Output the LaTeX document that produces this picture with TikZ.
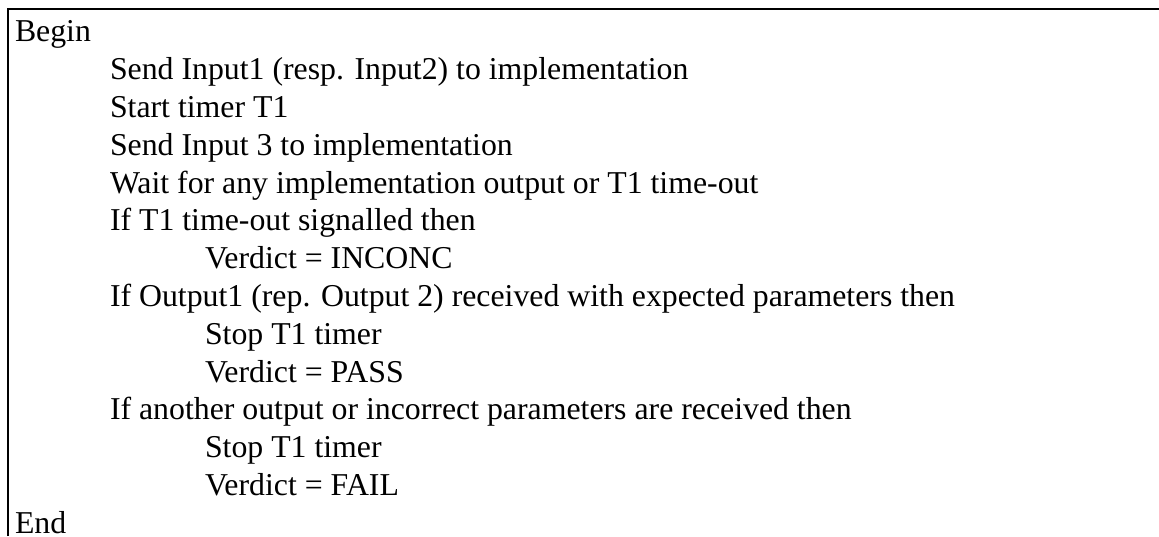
\documentclass[tikz,border=0pt]{standalone}
\usepackage{fontspec}
\setmainfont{Liberation Serif}
\begin{document}
\begin{tikzpicture}[x=1pt,y=1pt,
  codeline/.style={anchor=base west, inner sep=0pt, outer sep=0pt, font=\fontsize{31.8}{35}\selectfont},
  frameline/.style={line width=2pt, black}]
\useasboundingbox (0,0) rectangle (1159,536);
\draw[frameline] (8,0) -- (8,527) -- (1159,527);
\def\lx{15}\def\ly{110}\def\lz{205}\def\dy{37.78}
\node[codeline] (l0)  at (\lx,{494-0*\dy})  {Begin};
\node[codeline] (l1)  at (\ly,{494-1*\dy})  {Send Input1 (resp. Input2) to implementation};
\node[codeline] (l2)  at (\ly,{494-2*\dy})  {Start timer T1};
\node[codeline] (l3)  at (\ly,{494-3*\dy})  {Send Input 3 to implementation};
\node[codeline] (l4)  at (\ly,{494-4*\dy})  {Wait for any implementation output or T1 time-out};
\node[codeline] (l5)  at (\ly,{494-5*\dy})  {If T1 time-out signalled then};
\node[codeline] (l6)  at (\lz,{494-6*\dy})  {Verdict = INCONC};
\node[codeline] (l7)  at (\ly,{494-7*\dy})  {If Output1 (rep. Output 2) received with expected parameters then};
\node[codeline] (l8)  at (\lz,{494-8*\dy})  {Stop T1 timer};
\node[codeline] (l9)  at (\lz,{494-9*\dy})  {Verdict = PASS};
\node[codeline] (l10) at (\ly,{494-10*\dy}) {If another output or incorrect parameters are received then};
\node[codeline] (l11) at (\lz,{494-11*\dy}) {Stop T1 timer};
\node[codeline] (l12) at (\lz,{494-12*\dy}) {Verdict = FAIL};
\node[codeline] (l13) at (\lx,{494-13*\dy}) {End};
\end{tikzpicture}
\end{document}
